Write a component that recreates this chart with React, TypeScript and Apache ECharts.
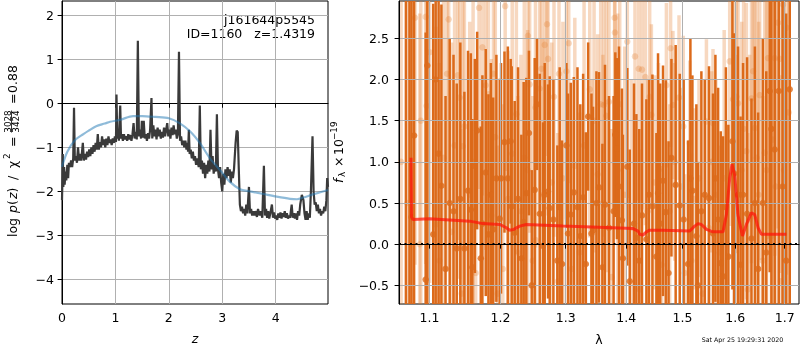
import { useEffect, useRef } from 'react';
import * as echarts from 'echarts';

// ---- tick values ----
const zTicks = [0, 1, 2, 3, 4];
const logPTicks = [-4, -3, -2, -1, 0, 1, 2];
const waveTicks = [1.1, 1.2, 1.3, 1.4, 1.5, 1.6, 1.7];
const fluxTicks = [-0.5, 0, 0.5, 1, 1.5, 2, 2.5];

// ---- texts ----
const fileId = 'j161644p5545';
const objLabel = 'ID=1160   z=1.4319';
const stamp = 'Sat Apr 25 19:29:31 2020';

// ---- left panel: log p(z) (z, value) ----
const logPz: [number, number][] = [
  [0, -2.2], [0.01, -1.6], [0.015, -1.15], [0.025, -1.9], [0.04, -1.45], [0.05, -1.85], [0.065, -1.55],
  [0.08, -1.75], [0.1, -1.4], [0.115, -1.7], [0.13, -1.35], [0.15, -1.45], [0.17, -1.3], [0.19, -1.45],
  [0.21, -1.25], [0.225, -0.1], [0.24, -1.3], [0.26, -1.2], [0.28, -1.35], [0.3, -1.0], [0.32, -1.3],
  [0.34, -1.15], [0.36, -1.3], [0.39, -0.9], [0.41, -1.3], [0.43, -1.15], [0.45, -1.28], [0.47, -1.1],
  [0.49, -1.22], [0.51, -1.05], [0.53, -1.2], [0.55, -1.0], [0.57, -1.15], [0.59, -0.95], [0.61, -1.1],
  [0.63, -0.9], [0.65, -1.05], [0.67, -0.7], [0.69, -1.05], [0.71, -0.88], [0.73, -1.0], [0.75, -0.75],
  [0.77, -0.95], [0.79, -0.82], [0.81, -1.0], [0.83, -0.8], [0.85, -0.95], [0.87, -0.75], [0.89, -0.9],
  [0.91, -0.82], [0.93, -0.95], [0.95, -0.8], [0.97, -0.9], [0.99, -0.75], [1.01, -0.88], [1.02, 0.2],
  [1.035, -0.8], [1.05, -0.65], [1.065, -0.85], [1.09, -0.05], [1.105, -0.8], [1.12, -0.7], [1.14, -0.85],
  [1.16, -0.7], [1.18, -0.82], [1.2, -0.75], [1.22, -0.85], [1.24, -0.7], [1.26, -0.82], [1.28, -0.72],
  [1.3, -0.85], [1.32, -0.7], [1.34, -0.45], [1.36, -0.8], [1.38, -0.65], [1.4, -0.82], [1.42, 1.42],
  [1.44, -0.75], [1.46, -0.6], [1.48, -0.8], [1.495, -0.4], [1.51, -0.78], [1.53, -0.4], [1.55, -0.8],
  [1.57, -0.7], [1.59, -0.85], [1.61, -0.68], [1.63, -0.8], [1.65, -0.6], [1.675, 0.12], [1.69, -0.8],
  [1.71, -0.5], [1.73, -0.75], [1.75, -0.6], [1.77, -0.82], [1.79, -0.55], [1.81, -0.75], [1.83, -0.6],
  [1.85, -0.8], [1.87, -0.65], [1.89, -0.78], [1.91, -0.55], [1.93, -0.75], [1.95, -0.6], [1.97, -0.45],
  [1.99, -0.75], [2.01, -0.6], [2.03, -0.8], [2.05, -0.55], [2.07, -0.72], [2.09, -0.5], [2.11, -0.7],
  [2.13, -0.6], [2.15, -0.8], [2.17, -0.7], [2.19, 1.17], [2.21, -0.85], [2.23, -0.75], [2.25, -0.95],
  [2.27, -0.85], [2.29, -1.0], [2.31, -0.85], [2.33, -1.05], [2.35, -0.9], [2.36, -1.1], [2.375, -0.6],
  [2.39, -1.15], [2.41, -1.05], [2.43, -1.25], [2.45, -1.1], [2.47, -1.3], [2.49, -1.2], [2.51, -1.4],
  [2.53, -1.25], [2.56, -1.45], [2.58, -0.05], [2.6, -1.5], [2.62, -1.3], [2.64, -1.6], [2.66, -1.35],
  [2.68, -1.7], [2.7, -1.4], [2.72, -1.6], [2.74, -1.3], [2.76, -1.55], [2.78, -0.6], [2.8, -1.5],
  [2.82, -1.2], [2.84, -1.6], [2.86, -1.4], [2.88, -1.55], [2.9, -0.25], [2.92, -1.5], [2.94, -1.7],
  [2.96, -1.45], [2.98, -1.8], [3.0, -2.0], [3.02, -1.6], [3.04, -1.85], [3.06, -1.5], [3.08, -1.7],
  [3.1, -1.45], [3.12, -1.65], [3.14, -1.5], [3.16, -1.8], [3.18, -1.55], [3.2, -1.7], [3.22, -1.5],
  [3.25, -0.9], [3.27, -0.62], [3.29, -0.65], [3.31, -1.5], [3.33, -2.3], [3.35, -2.45], [3.37, -2.35],
  [3.39, -2.5], [3.41, -2.4], [3.43, -2.55], [3.45, -2.3], [3.47, -2.5], [3.5, -1.9], [3.52, -2.5],
  [3.54, -2.4], [3.56, -2.55], [3.58, -2.45], [3.6, -2.55], [3.62, -2.45], [3.65, -2.58], [3.67, -2.4],
  [3.7, -2.55], [3.72, -2.45], [3.75, -2.6], [3.78, -1.42], [3.8, -2.55], [3.82, -2.4], [3.84, -2.6],
  [3.86, -2.45], [3.88, -2.62], [3.9, -2.5], [3.93, -2.3], [3.95, -2.6], [3.97, -2.48], [3.99, -2.62],
  [4.01, -2.55], [4.03, -2.65], [4.05, -2.5], [4.07, -2.6], [4.09, -2.48], [4.11, -2.62], [4.13, -2.5],
  [4.15, -2.58], [4.17, -2.45], [4.19, -2.6], [4.21, -2.5], [4.23, -2.62], [4.25, -2.55], [4.27, -2.6],
  [4.3, -2.3], [4.32, -2.6], [4.34, -2.5], [4.36, -2.62], [4.38, -2.5], [4.4, -2.65], [4.42, -2.45],
  [4.44, -2.55], [4.46, -2.3], [4.49, -2.08], [4.52, -2.2], [4.54, -2.5], [4.56, -2.65], [4.58, -2.45],
  [4.6, -2.65], [4.62, -2.5], [4.64, -2.6], [4.66, -2.0], [4.69, -0.75], [4.71, -2.0], [4.73, -2.3],
  [4.75, -2.25], [4.77, -2.45], [4.79, -2.3], [4.81, -2.5], [4.83, -2.4], [4.85, -2.55], [4.87, -2.45],
  [4.89, -2.5], [4.91, -2.35], [4.93, -2.45], [4.95, -2.2], [4.965, -1.7], [4.98, -1.9],
];

// smooth (prior-like) curve
const logPzSmooth: [number, number][] = [
  [0, -1.44], [0.1, -1.1], [0.25, -0.83], [0.4, -0.7], [0.5, -0.62], [0.64, -0.52], [0.8, -0.46],
  [0.9, -0.42], [1.1, -0.37], [1.33, -0.29], [1.5, -0.29], [1.75, -0.31], [2.0, -0.34], [2.2, -0.45],
  [2.4, -0.64], [2.58, -0.9], [2.77, -1.25], [2.96, -1.52], [3.14, -1.78], [3.33, -1.95], [3.52, -2.0],
  [3.77, -2.06], [4.02, -2.12], [4.27, -2.17], [4.4, -2.18], [4.52, -2.14], [4.7, -2.07], [4.98, -1.97],
];

// ---- right panel: spectrum (lambda, flux, err) ----
const spec: [number, number, number][] = [
  [1.0688, -1.0, 4.5], [1.0735, 3.2, 4.0], [1.0762, 0.33, 3.5], [1.0796, 1.32, 3.0], [1.095, -0.43, 3.0],
  [1.0972, 2.17, 3.2], [1.1052, 0.12, 2.8], [1.1085, 2.0, 2.8], [1.1125, 1.1, 2.4], [1.1163, 0.71, 2.2],
  [1.122, -0.3, 2.1], [1.1277, 0.5, 2.0], [1.133, 0.4, 1.9], [1.1375, -0.05, 2.0], [1.1425, 0.55, 1.9],
  [1.1482, -0.05, 1.9], [1.1533, 0.65, 1.7], [1.1573, 0.42, 1.9], [1.1595, -0.28, 1.8], [1.163, 0.95, 1.3],
  [1.1663, 1.38, 1.2], [1.1715, -0.17, 1.6], [1.1738, 0.25, 1.8], [1.1786, 0.87, 1.5], [1.1825, 0.12, 1.7],
  [1.186, 0.6, 1.6], [1.1894, 0.18, 1.6], [1.1941, 0.8, 1.5], [1.199, 0.31, 1.7], [1.2009, 0.8, 1.4],
  [1.206, 1.24, 1.1], [1.211, 0.8, 1.6], [1.2152, 1.25, 1.0], [1.2167, 0.46, 1.7], [1.2212, 0.14, 1.6],
  [1.2262, 0.55, 1.6], [1.2312, -0.17, 1.5], [1.2347, 0.27, 1.7], [1.2387, 0.62, 1.4], [1.2427, 1.35, 1.0],
  [1.2469, -0.5, 1.4], [1.2515, 0.66, 1.6], [1.255, 1.7, 0.8], [1.2592, 0.37, 1.7], [1.2643, -0.02, 1.5],
  [1.2669, 0.6, 1.6], [1.2721, 0.64, 1.3], [1.2747, 0.44, 1.6], [1.2805, 0.3, 1.7], [1.2867, -0.2, 1.4],
  [1.2904, 0.45, 1.7], [1.2941, -0.24, 1.5], [1.301, 1.2, 1.0], [1.3036, 0.13, 1.7], [1.308, 0.36, 1.6],
  [1.3129, 0.63, 1.4], [1.3188, 0.45, 1.7], [1.3234, 0.1, 1.6], [1.328, 0.57, 1.5], [1.3324, -0.24, 1.6],
  [1.3362, 1.55, 0.9], [1.3416, 0.13, 1.7], [1.3442, 0.17, 1.5], [1.3498, 0.5, 1.6], [1.354, 0.69, 1.4],
  [1.3597, -0.28, 1.5], [1.364, 0.48, 1.7], [1.3707, 0.2, 1.6], [1.3785, 0.4, 1.4], [1.3814, 1.33, 1.0],
  [1.3841, 1.16, 1.1], [1.3876, 0.7, 1.7], [1.3926, 0.29, 1.6], [1.3943, -0.17, 1.5], [1.4018, 0.94, 1.2],
  [1.406, -0.45, 1.6], [1.4134, 0.25, 1.7], [1.4175, 0.08, 1.5], [1.4225, -0.2, 1.6], [1.4273, 0.35, 1.6],
  [1.435, 0.06, 1.7], [1.4396, 0.6, 1.4], [1.4456, 0.46, 1.6], [1.4527, -0.15, 1.5], [1.4556, 0.62, 1.7],
  [1.4595, 0.25, 1.7], [1.4645, 0.77, 1.4], [1.4694, 0.39, 1.6], [1.4745, -0.35, 1.6], [1.4797, 1.05, 1.2],
  [1.4874, 0.72, 1.7], [1.4948, 0.47, 1.6], [1.502, 0.3, 1.7], [1.5101, -0.24, 1.5], [1.5145, 0.8, 1.7],
  [1.5182, 0.65, 1.4], [1.5256, 0.1, 1.6], [1.5287, -0.5, 1.5], [1.535, 0.4, 1.7], [1.5413, 0.6, 1.4],
  [1.5494, 0.56, 1.6], [1.557, 0.13, 1.7], [1.5616, 0.8, 1.5], [1.5668, 0.3, 1.6], [1.5718, -0.23, 1.6],
  [1.5762, -0.39, 1.7], [1.5818, 0.45, 1.7], [1.5866, -0.15, 1.6], [1.5945, 1.25, 1.8], [1.5976, 0.86, 1.7],
  [1.6055, 0.6, 1.8], [1.6105, -0.25, 1.8], [1.6154, 0.6, 1.6], [1.6234, 0.37, 1.9], [1.6322, 0.07, 1.7],
  [1.639, 0.5, 1.9], [1.6455, -0.3, 1.9], [1.655, 0.5, 2.0], [1.662, -0.1, 2.2], [1.669, 1.86, 2.2],
  [1.6725, 1.4, 2.4], [1.6793, 1.15, 2.6], [1.6876, 1.86, 2.8], [1.6955, 0.7, 2.8], [1.703, -0.2, 3.0],
  [1.7105, 1.88, 3.2],
];

// faint background spectrum (lambda, flux, err)
const specBg: [number, number, number][] = [
  [1.0625, 1.0, 3.5], [1.0705, 0.5, 3.2], [1.0808, 2.75, 3.0], [1.087, 0.0, 2.8], [1.0885, 1.5, 2.8],
  [1.095, 2.76, 3.0], [1.0963, 1.68, 2.5], [1.1004, 2.33, 2.8], [1.1089, 0.24, 2.4], [1.1135, -0.2, 2.4],
  [1.1192, 1.05, 2.2], [1.124, 2.07, 2.4], [1.1263, 2.73, 2.2], [1.1303, 0.15, 2.3], [1.1345, 1.2, 2.3],
  [1.1389, 2.05, 2.0], [1.1416, 1.78, 2.2], [1.1443, -0.6, 2.0], [1.146, 1.19, 2.0], [1.1482, 1.43, 2.4],
  [1.1557, 0.6, 2.1], [1.1605, 1.0, 2.1], [1.1642, -0.35, 2.0], [1.169, 2.87, 2.2], [1.1738, 2.39, 1.8],
  [1.1786, 1.93, 2.0], [1.1825, 1.82, 1.6], [1.1868, 0.35, 1.9], [1.1898, 2.07, 1.8], [1.1925, 1.3, 2.0],
  [1.196, -0.6, 1.8], [1.2035, -0.3, 2.0], [1.207, 2.89, 2.0], [1.2112, 0.55, 1.8], [1.2175, 1.1, 1.9],
  [1.2237, 1.58, 1.7], [1.2257, -0.1, 1.9], [1.2305, 0.4, 1.9], [1.2356, 1.05, 1.9], [1.2407, 0.9, 1.7],
  [1.2412, 2.53, 1.6], [1.2438, 1.94, 1.8], [1.2485, -0.2, 2.0], [1.2527, 1.66, 1.7], [1.253, 0.05, 1.8],
  [1.2592, 1.89, 1.9], [1.2619, 2.13, 1.6], [1.2645, 0.6, 1.9], [1.2669, 2.42, 1.8], [1.2705, 2.67, 1.6],
  [1.2721, 2.25, 1.9], [1.2778, 0.75, 1.7], [1.2814, 1.79, 1.7], [1.2873, -0.45, 1.8], [1.2893, 2.07, 1.6],
  [1.2955, 0.8, 1.9], [1.301, 2.1, 1.8], [1.3048, 2.44, 1.7], [1.3095, -0.3, 1.8], [1.3145, 0.95, 1.8],
  [1.3225, -0.1, 1.7], [1.3295, 1.2, 1.9], [1.3388, 1.88, 1.8], [1.3425, 0.2, 1.8], [1.3459, 1.5, 1.6],
  [1.3519, 0.85, 1.7], [1.3569, 1.7, 1.7], [1.3605, 0.5, 1.8], [1.3619, 1.69, 1.6], [1.3664, 1.56, 1.9],
  [1.3707, 1.73, 1.7], [1.3753, -0.4, 1.8], [1.3802, 2.75, 1.8], [1.3807, 2.57, 1.6], [1.3855, 0.9, 1.9],
  [1.3889, 1.7, 1.7], [1.3974, 0.6, 1.8], [1.4018, 2.46, 1.9], [1.4085, 0.2, 1.8], [1.4151, 2.28, 1.8],
  [1.4215, 2.13, 1.6], [1.4233, -0.55, 1.7], [1.4273, 2.12, 1.7], [1.4332, 2.03, 1.8], [1.4375, 0.4, 1.6],
  [1.4408, 1.79, 1.2], [1.4438, 1.57, 1.1], [1.4497, 0.75, 1.3], [1.4565, 0.9, 1.3], [1.4621, -0.25, 1.2],
  [1.4706, 1.93, 1.0], [1.4765, 0.4, 1.3], [1.4782, 2.38, 1.2], [1.4824, 1.69, 0.9], [1.4856, 1.0, 1.2],
  [1.4935, 1.78, 1.0], [1.4985, 0.7, 1.2], [1.5013, 1.43, 1.1], [1.504, -0.35, 1.2], [1.5132, 1.23, 1.0],
  [1.5165, -0.2, 1.3], [1.5225, 0.55, 1.1], [1.5305, 0.8, 1.2], [1.5375, -0.6, 1.2], [1.5445, 1.49, 1.0],
  [1.5485, 0.2, 1.3], [1.5545, 1.0, 1.1], [1.557, 1.47, 0.9], [1.5625, 0.6, 1.4], [1.5698, -0.1, 1.3],
  [1.5785, 0.8, 1.8], [1.5892, 2.22, 2.0], [1.5957, 1.76, 1.8], [1.5995, 0.4, 1.9], [1.6023, 1.79, 1.9],
  [1.6055, 1.71, 1.7], [1.6128, 0.9, 1.8], [1.6165, 1.4, 1.9], [1.622, 1.13, 1.8], [1.6247, -0.55, 1.9],
  [1.6285, 0.3, 2.0], [1.6322, 1.77, 2.0], [1.6353, 2.1, 1.8], [1.6387, 1.41, 1.9], [1.6426, 1.05, 2.0],
  [1.6465, 0.6, 2.1], [1.6487, 1.81, 2.0], [1.6548, -0.2, 2.0], [1.6588, 1.11, 2.1], [1.6625, 0.9, 2.2],
  [1.6655, 2.26, 2.2], [1.6725, 0.1, 2.4], [1.6752, 1.27, 2.3], [1.6793, 2.26, 2.4], [1.6813, 0.7, 2.3],
  [1.6861, 2.69, 2.5], [1.6896, 2.25, 2.6], [1.6917, -0.45, 2.5], [1.6965, 2.91, 2.8], [1.6985, 0.9, 2.8],
  [1.7035, 2.63, 3.0], [1.7085, 1.6, 3.0],
];

// best-fit model (lambda, flux)
const model: [number, number][] = [
  [1.0755, 1.05], [1.0762, 0.33], [1.078, 0.3], [1.1, 0.31], [1.1557, 0.28], [1.1747, 0.25], [1.1989, 0.24],
  [1.2088, 0.2], [1.2137, 0.17], [1.2197, 0.18], [1.2287, 0.22], [1.2388, 0.24], [1.2956, 0.22],
  [1.3774, 0.2], [1.4116, 0.19], [1.4204, 0.16], [1.4233, 0.12], [1.429, 0.11], [1.435, 0.15],
  [1.4408, 0.17], [1.4645, 0.17], [1.5132, 0.16], [1.5224, 0.22], [1.5287, 0.25], [1.5351, 0.24],
  [1.5445, 0.18], [1.557, 0.15], [1.5762, 0.15], [1.5828, 0.36], [1.5892, 0.8], [1.5936, 0.97],
  [1.5989, 0.84], [1.6055, 0.35], [1.6142, 0.1], [1.622, 0.24], [1.632, 0.38], [1.6387, 0.36],
  [1.6453, 0.2], [1.6522, 0.12], [1.7035, 0.12],
];

const FONT = 'DejaVu Sans';
const ORANGE = '#dc6a1a';
const ORANGE_FAINT = 'rgba(228,125,45,0.3)';
const GRIDLINE = '#b0b0b0';
const minus = (s: string) => s.replace('-', '\u2212');

function errBar(color: string, width: number) {
  return (_p: any, api: any) => {
    const x = api.value(0);
    const y = api.value(1);
    const e = api.value(2);
    const lo = api.coord([x, y - e]);
    const hi = api.coord([x, y + e]);
    return {
      type: 'line',
      shape: { x1: lo[0], y1: lo[1], x2: hi[0], y2: hi[1] },
      style: { stroke: color, lineWidth: width },
    };
  };
}

export default function App() {
  const ref = useRef<HTMLDivElement>(null);
  useEffect(() => {
    if (!ref.current) return;
    const chart = echarts.init(ref.current, undefined, { renderer: 'svg' });
    const ln = Math.log;
    const axisCommon = {
      axisLine: { show: true, lineStyle: { color: '#000', width: 1 } },
      axisTick: { show: true, length: 4.4, lineStyle: { color: '#000', width: 1 } },
      splitLine: { show: true, lineStyle: { color: GRIDLINE, width: 1 } },
      z: 3,
    };
    const labelCommon = { color: '#000', fontSize: 12.5, fontFamily: FONT };
    const txt = (text: string, x: number, y: number, size = 12.5, extra: any = {}) => ({
      type: 'text', x, y,
      style: { text, fontSize: size, fontFamily: FONT, fill: '#000', verticalAlign: 'middle', ...extra },
    });
    const gridCommon = { show: true, borderColor: '#000', borderWidth: 1, backgroundColor: 'transparent', containLabel: false, outerBoundsMode: 'none' };

    const option: any = {
      animation: false,
      textStyle: { fontFamily: FONT },
      grid: [
        { ...gridCommon, left: 62, top: 1, width: 266, height: 303 },
        { ...gridCommon, left: 399, top: 1, width: 400, height: 303 },
      ],
      xAxis: [
        {
          ...axisCommon,
          gridIndex: 0, type: 'value', min: 0, max: 4.98,
          axisTick: { ...axisCommon.axisTick, customValues: zTicks },
          axisLabel: { ...labelCommon, margin: 7, customValues: zTicks, formatter: (v: number) => minus(String(v)) },
          name: 'z', nameLocation: 'middle', nameGap: 28,
          nameTextStyle: { color: '#000', fontSize: 12.5, fontStyle: 'italic', fontFamily: FONT },
        },
        {
          ...axisCommon,
          gridIndex: 1, type: 'value', min: ln(1.0598), max: ln(1.73),
          axisTick: { ...axisCommon.axisTick, customValues: waveTicks.map((w) => ln(w)) },
          axisLabel: { ...labelCommon, margin: 7, customValues: waveTicks.map((w) => ln(w)), formatter: (v: number) => Math.exp(v).toFixed(1) },
          name: 'λ', nameLocation: 'middle', nameGap: 29,
          nameTextStyle: { color: '#000', fontSize: 12.5, fontFamily: FONT },
        },
      ],
      yAxis: [
        {
          ...axisCommon,
          gridIndex: 0, type: 'value', min: -4.56, max: 2.325,
          axisTick: { ...axisCommon.axisTick, customValues: logPTicks },
          axisLabel: { ...labelCommon, margin: 8, customValues: logPTicks, formatter: (v: number) => minus(String(v)) },
        },
        {
          ...axisCommon,
          gridIndex: 1, type: 'value', min: -0.726, max: 2.953,
          axisTick: { ...axisCommon.axisTick, customValues: fluxTicks },
          axisLabel: { ...labelCommon, margin: 10, customValues: fluxTicks, formatter: (v: number) => minus(v.toFixed(1)) },
        },
      ],
      series: [
        {
          type: 'line', xAxisIndex: 0, yAxisIndex: 0, data: logPz, showSymbol: false, z: 4,
          lineStyle: { color: '#3a3a3a', width: 2.2 }, silent: true,
        },
        {
          type: 'line', xAxisIndex: 0, yAxisIndex: 0, data: logPzSmooth, showSymbol: false, smooth: 0.3, z: 5,
          lineStyle: { color: 'rgba(31,119,180,0.5)', width: 2.2 }, silent: true,
        },
        {
          type: 'custom', xAxisIndex: 1, yAxisIndex: 1, clip: true, z: 1,
          data: specBg.map(([w, f, e]) => [ln(w), f, e]),
          encode: { x: 0, y: 1 },
          renderItem: errBar(ORANGE_FAINT, 3.5),
        },
        {
          type: 'scatter', xAxisIndex: 1, yAxisIndex: 1, z: 1, symbolSize: 6.5, clip: true,
          data: specBg.map(([w, f]) => [ln(w), f]),
          itemStyle: { color: 'rgba(228,125,45,0.35)' }, silent: true,
        },
        {
          type: 'custom', xAxisIndex: 1, yAxisIndex: 1, clip: true, z: 2,
          data: spec.map(([w, f, e]) => [ln(w), f, e]),
          encode: { x: 0, y: 1 },
          renderItem: errBar(ORANGE, 2.5),
        },
        {
          type: 'scatter', xAxisIndex: 1, yAxisIndex: 1, z: 4, symbolSize: 6.5, clip: true,
          data: spec.map(([w, f]) => [ln(w), f]),
          itemStyle: { color: ORANGE }, silent: true,
        },
        {
          type: 'line', xAxisIndex: 1, yAxisIndex: 1, z: 6, showSymbol: false, silent: true,
          data: model.map(([w, f]) => [ln(w), f]),
          lineStyle: { color: 'rgba(255,20,10,0.72)', width: 3 },
          markLine: {
            silent: true, symbol: 'none', label: { show: false },
            lineStyle: { color: '#000', type: [2, 3.5], width: 2 },
            data: [{ yAxis: 0 }],
          },
        },
      ],
      graphic: [
        { type: 'text', right: 800 - 315, top: 13, style: { text: fileId, fontSize: 12.5, fontFamily: FONT, fill: '#000', align: 'right' } },
        { type: 'text', right: 800 - 315, top: 27, style: { text: objLabel, fontSize: 12.5, fontFamily: FONT, fill: '#000', align: 'right' } },
        {
          type: 'group', x: 12, y: 152, rotation: Math.PI / 2,
          children: [
            txt('log', -85, 0),
            txt('{i|p}(', -61, 0, 12.5, { rich: { i: { fontStyle: 'italic', fontSize: 12.5, fontFamily: FONT } } }),
            txt('{i|z})', -47, 0, 12.5, { rich: { i: { fontStyle: 'italic', fontSize: 12.5, fontFamily: FONT } } }),
            txt('/', -28, 0),
            txt('χ', -16, 0),
            txt('2', -7, -5, 8.8),
            txt('=', 5, 0),
            txt('3028', 30.5, -4.5, 8.8, { align: 'center' }),
            { type: 'line', shape: { x1: 19.5, y1: -0.5, x2: 41.5, y2: -0.5 }, style: { stroke: '#000', lineWidth: 0.8 } },
            txt('3424', 30.5, 4, 8.8, { align: 'center' }),
            txt('=', 48, 0),
            txt('0.88', 59, 0),
          ],
        },
        {
          type: 'group', x: 338, y: 152, rotation: Math.PI / 2,
          children: [
            txt('f', -31, 0, 12.5, { fontStyle: 'italic' }),
            txt('λ', -25, 3.5, 8.8),
            txt('×', -15, 0),
            txt('10', -3, 0),
            txt('\u221219', 12, -4.5, 8.8),
          ],
        },
        { type: 'text', x: 742.5, y: 339, style: { text: stamp, fontSize: 6.3, fontFamily: FONT, fill: '#000', align: 'center', verticalAlign: 'middle' } },
      ],
    };
    chart.setOption(option);
    return () => chart.dispose();
  }, []);
  return <div ref={ref} style={{ position: 'fixed', left: 0, top: 0, width: 800, height: 350 }} />;
}
